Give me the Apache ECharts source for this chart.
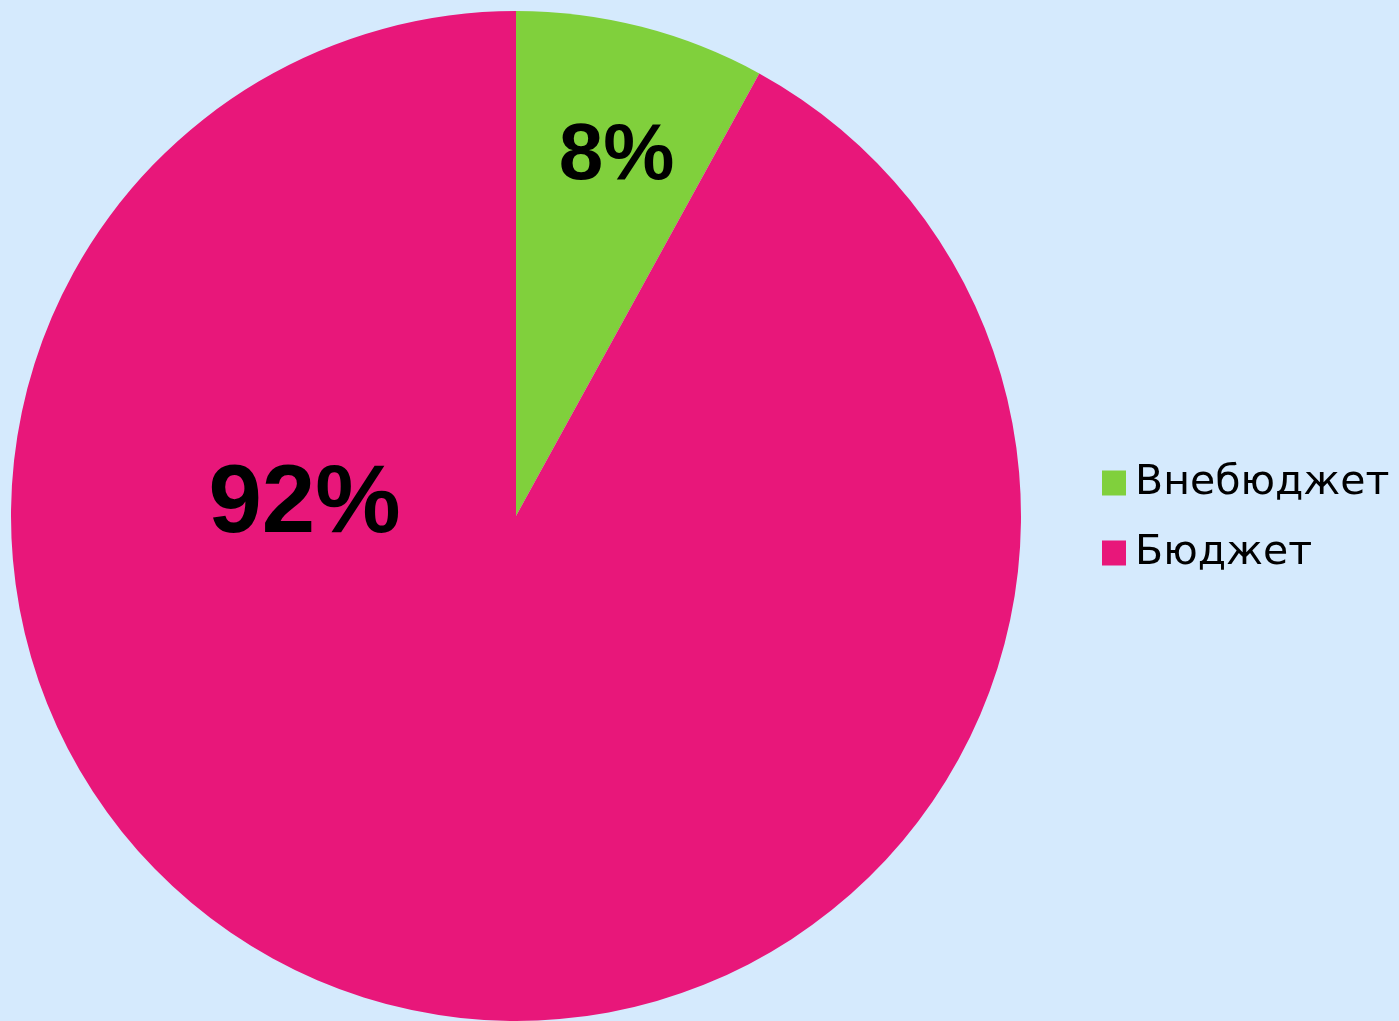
<!DOCTYPE html>
<html>
<head>
<meta charset="utf-8">
<script src="https://cdn.jsdelivr.net/npm/echarts@6/dist/echarts.min.js"></script>
<style>
  html, body { margin: 0; padding: 0; background: #d5eafd; }
  #chart { width: 1399px; height: 1021px; }
</style>
</head>
<body>
<div id="chart"></div>
<script>
var categories = ["Внебюджет", "Бюджет"];
var values = [8, 92];
var colors = ["#80d03c", "#e8177a"];
// смещения подписей относительно позиции 'inside'
var labelOffsets = [[37, -112], [-148, -258]];
var labelSizes = [80, 96];

var myChart = echarts.init(document.getElementById("chart"));
myChart.setOption({
  backgroundColor: "#d5eafd",
  animation: false,
  legend: {
    orient: "vertical",
    left: 1097,
    top: 456,
    itemWidth: 24,
    itemHeight: 25,
    itemGap: 26,
    icon: "rect",
    data: categories,
    textStyle: {
      fontFamily: "DejaVu Sans",
      fontSize: 41,
      lineHeight: 44,
      padding: [0, 0, 0, 4],
      color: "#000"
    }
  },
  series: [
    {
      type: "pie",
      center: [516, 516],
      radius: 505,
      startAngle: 90,
      clockwise: true,
      labelLine: { show: false },
      itemStyle: { borderWidth: 0 },
      data: categories.map(function (name, i) {
        return {
          name: name,
          value: values[i],
          itemStyle: { color: colors[i] },
          label: {
            show: true,
            position: "inside",
            formatter: "{d}%",
            offset: labelOffsets[i],
            fontFamily: "Liberation Sans",
            fontWeight: "bold",
            fontSize: labelSizes[i],
            color: "#000"
          }
        };
      })
    }
  ]
});
</script>
</body>
</html>
